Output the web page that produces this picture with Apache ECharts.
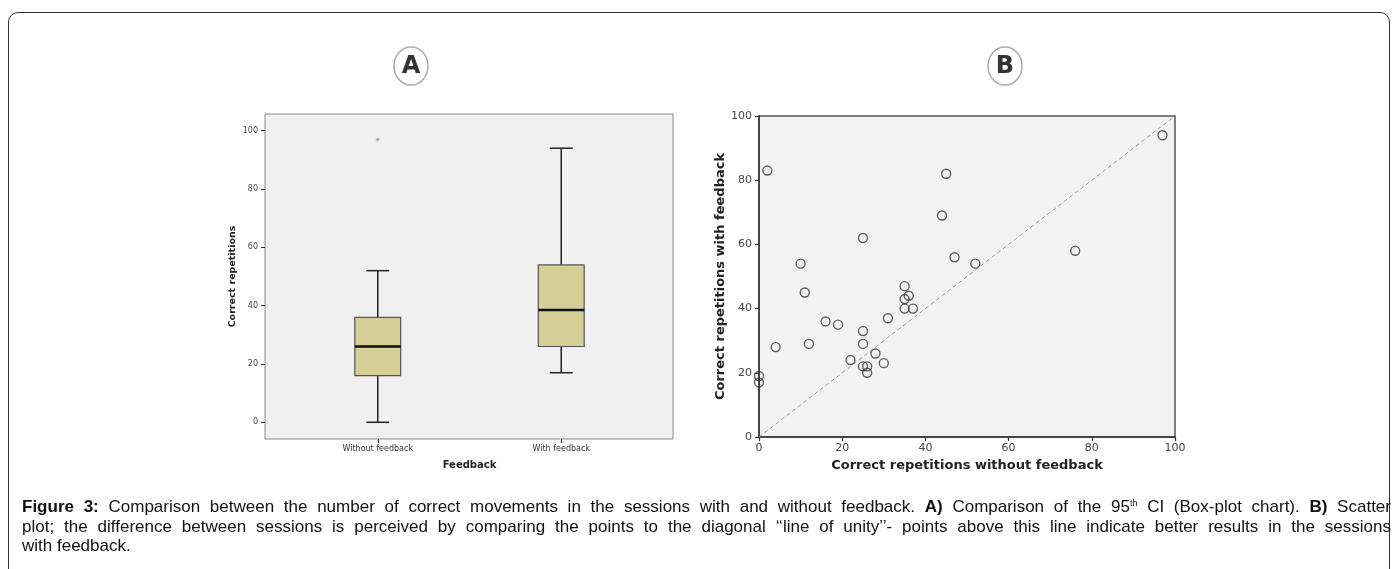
<!DOCTYPE html>
<html>
<head>
<meta charset="utf-8">
<script src="https://cdn.jsdelivr.net/npm/echarts@6/dist/echarts.min.js"></script>
<style>
  html, body { margin:0; padding:0; background:#fff; }
  #wrap { position:relative; width:1398px; height:569px; overflow:hidden; }
  #chart { position:absolute; left:0; top:0; width:1398px; height:569px; }
  #frame { position:absolute; left:8px; top:12px; width:1382px; height:600px; border:1.5px solid #333; border-radius:10px; box-sizing:border-box; }
  #caption { position:absolute; left:22px; top:497px; width:1369px; font-family:"Liberation Sans Narrow", "Arial Narrow", sans-serif; font-size:17px; line-height:19.5px; color:#111; }
  #caption .j2 { text-align:justify; text-align-last:justify; white-space:nowrap; height:19.5px; }
  #caption sup { font-size:9px; line-height:0; vertical-align:6px; }
</style>
</head>
<body>
<div id="wrap">
  <div id="frame"></div>
  <div id="chart"></div>
  <div id="caption">
    <div class="j2"><b>Figure 3:</b> Comparison between the number of correct movements in the sessions with and without feedback. <b>A)</b> Comparison of the 95<sup>th</sup> CI (Box-plot chart). <b>B)</b> Scatter</div>
    <div class="j2">plot; the difference between sessions is perceived by comparing the points to the diagonal ‘‘line of unity’’- points above this line indicate better results in the sessions</div>
    <div>with feedback.</div>
  </div>
</div>
<script>
// ---- Data ----
const categories = ['Without feedback', 'With feedback'];
const boxLow    = [0, 17];
const boxQ1     = [16, 26];
const boxMedian = [26, 38.5];
const boxQ3     = [36, 54];
const boxHigh   = [52, 94];
const outlierCategory = [0];
const outlierValue    = [97];
const boxTicks = [0, 20, 40, 60, 80, 100];

const scatterX = [2, 45, 44, 25, 76, 47, 52, 10, 11, 35, 36, 35, 35, 37, 31, 16, 19, 25, 25, 12, 4, 28, 22, 30, 25, 26, 26, 0, 0, 97];
const scatterY = [83, 82, 69, 62, 58, 56, 54, 54, 45, 47, 44, 43, 40, 40, 37, 36, 35, 33, 29, 29, 28, 26, 24, 23, 22, 22, 20, 19, 17, 94];
const unityLine = [[0, 0], [100, 100]];

// ---- Build ----
const boxData = categories.map((c, i) => [i, boxLow[i], boxQ1[i], boxMedian[i], boxQ3[i], boxHigh[i]]);
const outlierData = outlierCategory.map((c, i) => [c, outlierValue[i]]);
const scatterData = scatterX.map((x, i) => [x, scatterY[i]]);

const boxYMin = -5.73, boxYMax = 105.73;
const smallFont = 'DejaVu Sans';

const chart = echarts.init(document.getElementById('chart'), null, { renderer: 'canvas' });

const option = {
  animation: false,
  backgroundColor: 'transparent',
  grid: [
    { left: 265, top: 114, width: 408, height: 325, show: true, backgroundColor: '#f0f0f0', borderColor: '#888', borderWidth: 1 },
    { left: 286, top: 114, width: 367, height: 325, show: false },
    { left: 759, top: 116, width: 416, height: 321, show: true, backgroundColor: '#f2f2f2', borderColor: '#555', borderWidth: 1.5 }
  ],
  xAxis: [
    { gridIndex: 0, type: 'value', min: 0, max: 1, show: false },
    {
      gridIndex: 1, type: 'category', data: categories,
      axisLine: { show: false, onZero: false },
      axisTick: { show: true, alignWithLabel: true, length: 4, lineStyle: { color: '#333', width: 1.2 } },
      axisLabel: { fontSize: 8, color: '#333', margin: 6, fontFamily: smallFont },
      name: 'Feedback', nameLocation: 'middle', nameGap: 21,
      nameTextStyle: { fontSize: 10, fontWeight: 'bold', color: '#222', fontFamily: smallFont }
    },
    {
      gridIndex: 2, type: 'value', min: 0, max: 100, interval: 20,
      axisLine: { show: true, onZero: false, lineStyle: { color: '#333', width: 1.5 } },
      axisTick: { show: true, length: 4, lineStyle: { color: '#333', width: 1.2 } },
      axisLabel: { fontSize: 11, color: '#444', margin: 6, fontFamily: smallFont },
      splitLine: { show: false },
      name: 'Correct repetitions without feedback', nameLocation: 'middle', nameGap: 22,
      nameTextStyle: { fontSize: 13, fontWeight: 'bold', color: '#222', fontFamily: smallFont }
    }
  ],
  yAxis: [
    {
      gridIndex: 0, type: 'value', min: boxYMin, max: boxYMax,
      axisLine: { show: false, onZero: false },
      axisTick: { show: true, length: 4, customValues: boxTicks, lineStyle: { color: '#333', width: 1 } },
      axisLabel: { fontSize: 8, color: '#444', margin: 7, customValues: boxTicks, fontFamily: smallFont },
      splitLine: { show: false },
      name: 'Correct repetitions', nameLocation: 'middle', nameGap: 27,
      nameTextStyle: { fontSize: 9.5, fontWeight: 'bold', color: '#222', fontFamily: smallFont }
    },
    { gridIndex: 1, type: 'value', min: boxYMin, max: boxYMax, show: false },
    {
      gridIndex: 2, type: 'value', min: 0, max: 100, interval: 20,
      axisLine: { show: true, onZero: false, lineStyle: { color: '#333', width: 1.5 } },
      axisTick: { show: true, length: 4, lineStyle: { color: '#333', width: 1.2 } },
      axisLabel: { fontSize: 11, color: '#444', margin: 7, fontFamily: smallFont },
      splitLine: { show: false },
      name: 'Correct repetitions with feedback', nameLocation: 'middle', nameGap: 30,
      nameTextStyle: { fontSize: 13, fontWeight: 'bold', color: '#222', fontFamily: smallFont }
    }
  ],
  series: [
    {
      type: 'custom', xAxisIndex: 1, yAxisIndex: 1,
      encode: { x: 0, y: [1, 2, 3, 4, 5] },
      data: boxData,
      renderItem: function (params, api) {
        const xi = api.value(0);
        const pLow = api.coord([xi, api.value(1)]);
        const pQ1 = api.coord([xi, api.value(2)]);
        const pMed = api.coord([xi, api.value(3)]);
        const pQ3 = api.coord([xi, api.value(4)]);
        const pHigh = api.coord([xi, api.value(5)]);
        const band = api.size([1, 0])[0];
        const w = band * 0.25;
        const cx = pLow[0];
        const stroke = { stroke: '#222', lineWidth: 1.5 };
        return {
          type: 'group',
          children: [
            { type: 'line', shape: { x1: cx, y1: pLow[1], x2: cx, y2: pQ1[1] }, style: stroke },
            { type: 'line', shape: { x1: cx, y1: pQ3[1], x2: cx, y2: pHigh[1] }, style: stroke },
            { type: 'line', shape: { x1: cx - w / 4, y1: pLow[1], x2: cx + w / 4, y2: pLow[1] }, style: stroke },
            { type: 'line', shape: { x1: cx - w / 4, y1: pHigh[1], x2: cx + w / 4, y2: pHigh[1] }, style: stroke },
            { type: 'rect', shape: { x: cx - w / 2, y: pQ3[1], width: w, height: pQ1[1] - pQ3[1] }, style: { fill: '#d5cf97', stroke: '#555', lineWidth: 1.2 } },
            { type: 'line', shape: { x1: cx - w / 2, y1: pMed[1], x2: cx + w / 2, y2: pMed[1] }, style: { stroke: '#111', lineWidth: 2.5 } }
          ]
        };
      }
    },
    {
      type: 'scatter', xAxisIndex: 1, yAxisIndex: 1,
      data: outlierData, symbol: 'path://M0,-5L0,5M-4.3,-2.5L4.3,2.5M-4.3,2.5L4.3,-2.5', symbolSize: 4,
      itemStyle: { color: 'none', borderColor: '#888', borderWidth: 0.8 }
    },
    {
      type: 'scatter', xAxisIndex: 2, yAxisIndex: 2,
      data: scatterData, symbol: 'circle', symbolSize: 9,
      itemStyle: { color: 'rgba(0,0,0,0)', borderColor: '#3a3a3a', borderWidth: 1.4 },
      markLine: {
        silent: true, symbol: 'none', animation: false,
        label: { show: false },
        lineStyle: { color: '#999', type: [4, 3], width: 1 },
        data: [[{ coord: unityLine[0] }, { coord: unityLine[1] }]]
      },
      z: 3
    }
  ],
  graphic: [
    { type: 'ellipse', shape: { cx: 411, cy: 66, rx: 17, ry: 19 }, style: { fill: '#fff', stroke: '#aaa', lineWidth: 1.5 } },
    { type: 'text', x: 411, y: 67, style: { text: 'A', fontSize: 24, fontWeight: 'bold', fontFamily: 'DejaVu Sans', fill: '#333', align: 'center', verticalAlign: 'middle' } },
    { type: 'ellipse', shape: { cx: 1005, cy: 66, rx: 17, ry: 19 }, style: { fill: '#fff', stroke: '#aaa', lineWidth: 1.5 } },
    { type: 'text', x: 1005, y: 67, style: { text: 'B', fontSize: 24, fontWeight: 'bold', fontFamily: 'DejaVu Sans', fill: '#333', align: 'center', verticalAlign: 'middle' } }
  ]
};
chart.setOption(option);
</script>
</body>
</html>
